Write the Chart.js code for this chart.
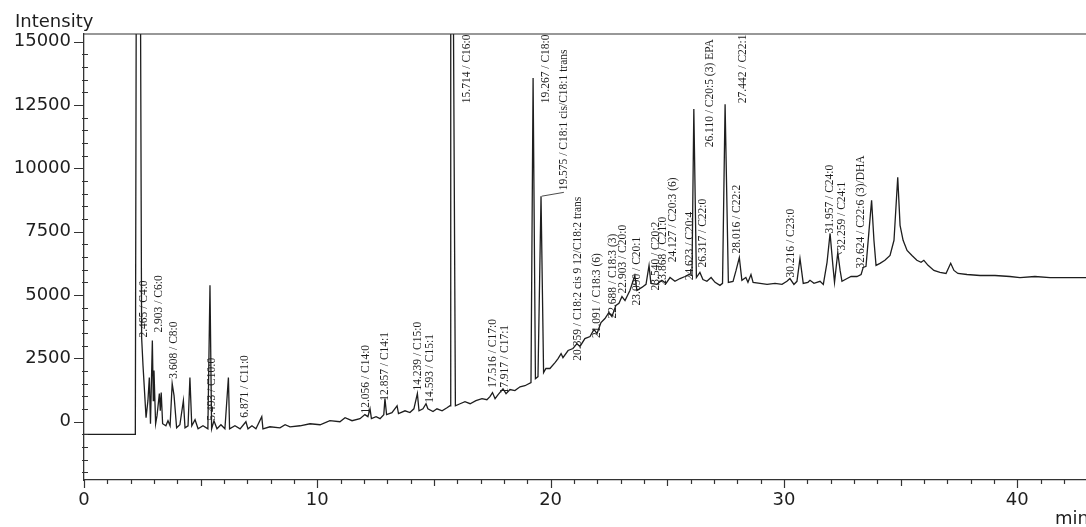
<!DOCTYPE html>
<html>
<head>
<meta charset="utf-8">
<script src="https://cdn.jsdelivr.net/npm/chart.js@4.4.0/dist/chart.umd.min.js"></script>
<style>
  html, body { margin: 0; padding: 0; background: #fff; }
  #wrap { width: 1086px; height: 527px; position: relative; }
</style>
</head>
<body>
<div id="wrap"><canvas id="chromatogram"></canvas></div>
<script>
// retention time (min) and detector intensity
const times = [
  0, 2.2, 2.24, 2.42, 2.47, 2.53, 2.66, 2.74, 2.8, 2.85, 2.93, 2.97, 3.0, 3.07, 3.13, 3.23, 3.27, 3.31, 3.37,
  3.51, 3.6, 3.69, 3.78, 3.86, 3.97, 4.11, 4.26, 4.33, 4.46, 4.54, 4.62, 4.76, 4.89, 5.1, 5.31, 5.4, 5.47,
  5.57, 5.7, 5.87, 6.04, 6.19, 6.24, 6.47, 6.69, 6.94, 7.03, 7.2, 7.37, 7.62, 7.67, 7.97, 8.4, 8.62, 8.83,
  9.26, 9.69, 10.12, 10.54, 10.97, 11.19, 11.49, 11.83, 12.04, 12.17, 12.26, 12.32, 12.52, 12.69, 12.85, 12.9,
  12.97, 13.2, 13.42, 13.48, 13.76, 13.97, 14.14, 14.29, 14.36, 14.53, 14.66, 14.74, 14.96, 15.13, 15.35,
  15.56, 15.69, 15.72, 15.83, 15.92, 16.12, 16.33, 16.55, 16.8, 17.06, 17.27, 17.4, 17.51, 17.62, 17.75,
  17.96, 18.09, 18.26, 18.47, 18.69, 18.9, 19.16, 19.25, 19.35, 19.46, 19.59, 19.7, 19.8, 19.97, 20.19,
  20.32, 20.45, 20.53, 20.75, 20.96, 21.13, 21.26, 21.47, 21.69, 21.86, 21.99, 22.16, 22.33, 22.5, 22.63,
  22.8, 22.93, 23.06, 23.19, 23.4, 23.61, 23.7, 23.91, 24.09, 24.22, 24.3, 24.56, 24.77, 24.95, 25.12,
  25.33, 25.55, 25.76, 25.93, 26.06, 26.14, 26.25, 26.4, 26.53, 26.7, 26.88, 27.05, 27.26, 27.37, 27.48,
  27.62, 27.82, 27.95, 28.09, 28.2, 28.37, 28.46, 28.59, 28.68, 28.98, 29.28, 29.62, 29.92, 30.13, 30.26,
  30.43, 30.56, 30.69, 30.83, 31.03, 31.12, 31.29, 31.55, 31.69, 31.85, 31.98, 32.1, 32.17, 32.31, 32.41,
  32.49, 32.71, 32.88, 33.13, 33.31, 33.4, 33.52, 33.65, 33.76, 33.86, 33.95, 34.12, 34.33, 34.55, 34.72,
  34.88, 34.98, 35.11, 35.28, 35.49, 35.7, 35.88, 36.0, 36.18, 36.43, 36.69, 36.95, 37.15, 37.29, 37.46,
  37.85, 38.41, 39.05, 39.69, 40.12, 40.76, 41.41, 42.05, 42.95
];
const intensities = [
  -500, -500, 17000, 17000, 3320, 2210, 160, 830, 1740, -80, 3200, 830, 2020, -80, 240, 1110, 430, 1150, -80,
  -160, 40, -160, 1500, 1030, -240, -120, 830, -240, -160, 1740, -160, 80, -280, -160, -280, 5380, -280,
  40, -280, -120, -280, 1740, -280, -160, -280, 0, -280, -160, -280, 200, -280, -200, -240, -120, -200,
  -160, -80, -120, 40, 0, 160, 40, 120, 280, 200, 510, 120, 200, 120, 280, 910,
  280, 360, 630, 320, 430, 360, 510, 1110, 430, 510, 710, 510, 400, 510, 430,
  550, 630, 17000, 17000, 630, 710, 790, 710, 830, 910, 870, 990, 1150, 910, 1070,
  1300, 1110, 1270, 1230, 1380, 1420, 1540, 13560, 1700, 1780, 8900, 1940, 2100, 2100, 2330,
  2490, 2690, 2530, 2810, 2890, 3080, 2970, 3280, 3360, 3640, 3480, 3910, 4070, 4310, 4150,
  4590, 4670, 4940, 4780, 5180, 5770, 5180, 5300, 5420, 6170, 5460, 5420, 5580, 5460, 5690,
  5540, 5650, 5730, 5810, 5770, 12340, 5690, 5890, 5610, 5540, 5690, 5500, 5380, 5460, 12530,
  5500, 5540, 5970, 6480, 5580, 5690, 5500, 5810, 5500, 5460, 5420, 5460, 5420, 5540, 5650,
  5420, 5540, 6440, 5460, 5500, 5580, 5460, 5540, 5420, 6290, 7430, 6170, 5500, 6680, 5970,
  5540, 5650, 5730, 5730, 5810, 6090, 6130, 7550, 8740, 7160, 6170, 6250, 6370, 6560, 7160,
  9650, 7750, 7160, 6760, 6560, 6370, 6290, 6370, 6170, 5970, 5890, 5850, 6250, 5970, 5850,
  5810, 5770, 5770, 5730, 5690, 5730, 5690, 5690, 5690
];

const xMajorTicks = [0, 10, 20, 30, 40];
const yMajorTicks = [0, 2500, 5000, 7500, 10000, 12500, 15000];

// peak annotations: text, and where the foot of the (rotated) text sits
const peakNames = [
  '2.465 / C4:0', '2.903 / C6:0', '3.608 / C8:0', '5.493 / C10:0', '6.871 / C11:0',
  '12.056 / C14:0', '12.857 / C14:1', '14.239 / C15:0', '14.593 / C15:1', '15.714 / C16:0',
  '17.516 / C17:0', '17.917 / C17:1', '19.267 / C18:0', '19.575 / C18:1 cis/C18:1 trans',
  '20.359 / C18:2 cis 9 12/C18:2 trans', '21.091 / C18:3 (6)', '22.688 / C18:3 (3)', '22.903 / C20:0',
  '23.090 / C20:1', '23.540 / C20:2', '23.868 / C21:0', '24.127 / C20:3 (6)', '24.623 / C20:4',
  '26.110 / C20:5 (3) EPA', '26.317 / C22:0', '27.442 / C22:1', '28.016 / C22:2', '30.216 / C23:0',
  '31.957 / C24:0', '32.259 / C24:1', '32.624 / C22:6 (3)/DHA'
];
const labelTimes = [
  2.57, 3.21, 3.86, 5.49, 6.9,
  12.09, 12.9, 14.3, 14.83, 16.42,
  17.53, 18.05, 19.82, 20.57,
  21.17, 22.0, 22.67, 23.1,
  23.7, 24.52, 24.82, 25.25, 25.97,
  26.83, 26.53, 28.25, 27.99, 30.3,
  31.98, 32.49, 33.3
];
const labelValues = [
  3320, 3520, 1700, 40, 160,
  320, 830, 1230, 750, 12570,
  1340, 1110, 12570, 9130,
  2410, 3300, 4070, 5060,
  4590, 5180, 5380, 6290, 5580,
  10830, 6090, 12570, 6640, 5690,
  7430, 6760, 6050
];
// short leader lines from a label foot to its peak
const leaderLabels = [13, 29];
const leaderTimes = [19.62, 32.33];
const leaderValues = [8900, 6600];

const INK = '#1e1e1e';
const AXIS_FONT = { family: "'DejaVu Sans', Verdana, sans-serif", size: 18 };

const decorations = {
  id: 'decorations',
  afterDraw(chart) {
    const { ctx, chartArea, scales: { x, y } } = chart;
    ctx.save();
    ctx.strokeStyle = '#333';
    ctx.lineWidth = 1.2;

    // frame line along the top
    ctx.beginPath();
    ctx.moveTo(chartArea.left, chartArea.top);
    ctx.lineTo(chartArea.right, chartArea.top);
    ctx.stroke();

    ctx.beginPath();
    // y ticks: long outside marks at labelled values, short marks every 500
    for (let v = -2000; v <= 15000; v += 500) {
      const py = Math.round(y.getPixelForValue(v)) + 0.5;
      if (yMajorTicks.includes(v)) {
        ctx.moveTo(chartArea.left - 10, py);
        ctx.lineTo(chartArea.left, py);
      } else {
        ctx.moveTo(chartArea.left - 2, py);
        ctx.lineTo(chartArea.left + 4, py);
      }
    }
    // x ticks: every minute, longer every 5 and at the labels
    for (let t = 0; t <= 42; t++) {
      const px = Math.round(x.getPixelForValue(t)) + 0.5;
      let len = 4;
      if (xMajorTicks.includes(t)) {
        len = 8;
      } else if (t % 5 === 0) {
        len = 6;
      }
      ctx.moveTo(px, chartArea.bottom);
      ctx.lineTo(px, chartArea.bottom + len);
    }
    ctx.stroke();

    ctx.fillStyle = INK;
    ctx.font = "18px 'DejaVu Sans', Verdana, sans-serif";
    ctx.textBaseline = 'alphabetic';
    ctx.textAlign = 'left';
    ctx.fillText('Intensity', 15, 27);
    ctx.fillText('min', 1055, 524);
    ctx.restore();
  }
};

const peakLabels = {
  id: 'peakLabels',
  afterDatasetsDraw(chart) {
    const { ctx, scales: { x, y } } = chart;
    ctx.save();
    ctx.fillStyle = INK;
    ctx.strokeStyle = INK;
    ctx.lineWidth = 0.8;
    ctx.font = "11.5px 'Liberation Serif', 'Times New Roman', serif";
    ctx.textAlign = 'left';
    ctx.textBaseline = 'middle';

    peakNames.forEach((name, i) => {
      const px = x.getPixelForValue(labelTimes[i]);
      const py = y.getPixelForValue(labelValues[i]);
      ctx.save();
      ctx.translate(px, py);
      ctx.rotate(-Math.PI / 2);
      ctx.fillText(name, 0, 0);
      ctx.restore();
    });

    leaderLabels.forEach((idx, i) => {
      ctx.beginPath();
      ctx.moveTo(x.getPixelForValue(labelTimes[idx]), y.getPixelForValue(labelValues[idx]) + 2);
      ctx.lineTo(x.getPixelForValue(leaderTimes[i]), y.getPixelForValue(leaderValues[i]));
      ctx.stroke();
    });
    ctx.restore();
  }
};

new Chart(document.getElementById('chromatogram'), {
  type: 'line',
  data: {
    datasets: [{
      data: times.map((t, i) => ({ x: t, y: intensities[i] })),
      borderColor: INK,
      borderWidth: 1.3,
      pointRadius: 0,
      tension: 0,
      fill: false
    }]
  },
  options: {
    responsive: true,
    maintainAspectRatio: false,
    animation: false,
    layout: {
      padding: { top: 34, right: 0, bottom: 0, left: 0 }
    },
    scales: {
      x: {
        type: 'linear',
        min: 0,
        max: 42.95,
        afterBuildTicks: (scale) => {
          scale.ticks = xMajorTicks.map((v) => ({ value: v }));
        },
        afterFit: (scale) => {
          scale.height = 47;
        },
        grid: { display: false, drawTicks: false },
        border: { display: true, color: '#333', width: 1.3 },
        ticks: {
          padding: 10,
          autoSkip: false,
          maxRotation: 0,
          color: INK,
          font: AXIS_FONT,
          callback: (value) => String(value)
        }
      },
      y: {
        type: 'linear',
        min: -2300,
        max: 15300,
        afterBuildTicks: (scale) => {
          scale.ticks = yMajorTicks.map((v) => ({ value: v }));
        },
        afterFit: (scale) => {
          scale.width = 84;
        },
        grid: { display: false, drawTicks: false },
        border: { display: true, color: '#333', width: 1.3 },
        ticks: {
          padding: 13,
          color: INK,
          font: AXIS_FONT,
          callback: (value) => String(value)
        }
      }
    },
    plugins: {
      legend: { display: false },
      title: { display: false },
      tooltip: { enabled: false }
    }
  },
  plugins: [peakLabels, decorations]
});
</script>
</body>
</html>
